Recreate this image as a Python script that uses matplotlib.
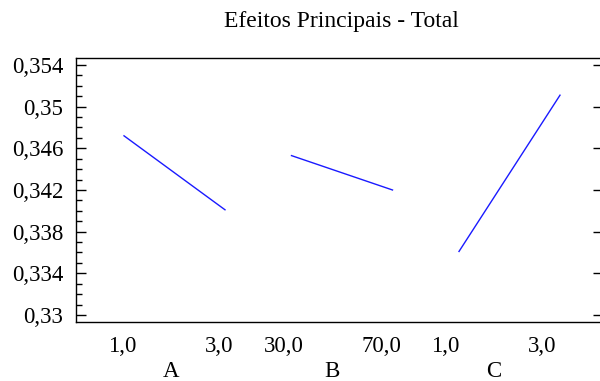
import matplotlib
matplotlib.use("Agg")
import matplotlib.pyplot as plt
from matplotlib.ticker import FixedLocator, MultipleLocator, FuncFormatter
from matplotlib.transforms import blended_transform_factory

# main-effect means for each factor at its low / high level
factors = ["A", "B", "C"]
level_labels = [["1,0", "3,0"], ["30,0", "70,0"], ["1,0", "3,0"]]
means = {
    "A": [0.3472, 0.3401],
    "B": [0.3453, 0.3420],
    "C": [0.3361, 0.3511],
}
y_major = [0.33, 0.334, 0.338, 0.342, 0.346, 0.35, 0.354]

# horizontal layout (units = pixels of the 600 px wide figure)
SEG_X0, SEG_STEP, SEG_W = 124.0, 167.5, 101.0
LAB_X0, LAB_STEP, LAB_W = 122.0, 161.5, 97.5

plt.rcParams["font.family"] = ["Liberation Serif", "DejaVu Serif"]

fig = plt.figure(figsize=(6.0, 3.81), dpi=100)
ax = fig.add_axes([75.7 / 600, 1 - 322.3 / 381, (603 - 75.7) / 600, (322.3 - 58.3) / 381])
ax.set_xlim(75.7, 603)
ax.set_ylim(0.3293, 0.35464)

for i, f in enumerate(factors):
    x0 = SEG_X0 + i * SEG_STEP
    ax.plot([x0, x0 + SEG_W], means[f], color="#1a1aff", lw=1.0)

ax.yaxis.set_major_locator(FixedLocator(y_major))
ax.yaxis.set_minor_locator(MultipleLocator(0.001))
ax.yaxis.set_major_formatter(FuncFormatter(
    lambda v, _: f"{v:.3f}".rstrip("0").replace(".", ",")))
ax.tick_params(axis="y", which="major", direction="in", length=7.5, width=1.0,
               labelsize=16.5, pad=9, right=True)
ax.tick_params(axis="y", which="minor", direction="in", length=4, width=1.0)
ax.tick_params(axis="y", which="minor", right=False)
ax.set_xticks([])
for s in ax.spines.values():
    s.set_linewidth(1.0)

tr = blended_transform_factory(ax.transData, fig.transFigure)
for i, f in enumerate(factors):
    lx = LAB_X0 + i * LAB_STEP
    for j, lab in enumerate(level_labels[i]):
        ax.text(lx + j * LAB_W, 1 - 352 / 381, lab, transform=tr, ha="center",
                va="baseline", fontsize=16.5)
    ax.text(lx + LAB_W / 2, 1 - 377 / 381, f, transform=tr, ha="center",
            va="baseline", fontsize=16.5)

fig.text(341 / 600, 1 - 27.3 / 381, "Efeitos Principais - Total", ha="center",
         va="baseline", fontsize=17)

fig.savefig("out.png", dpi=100)
